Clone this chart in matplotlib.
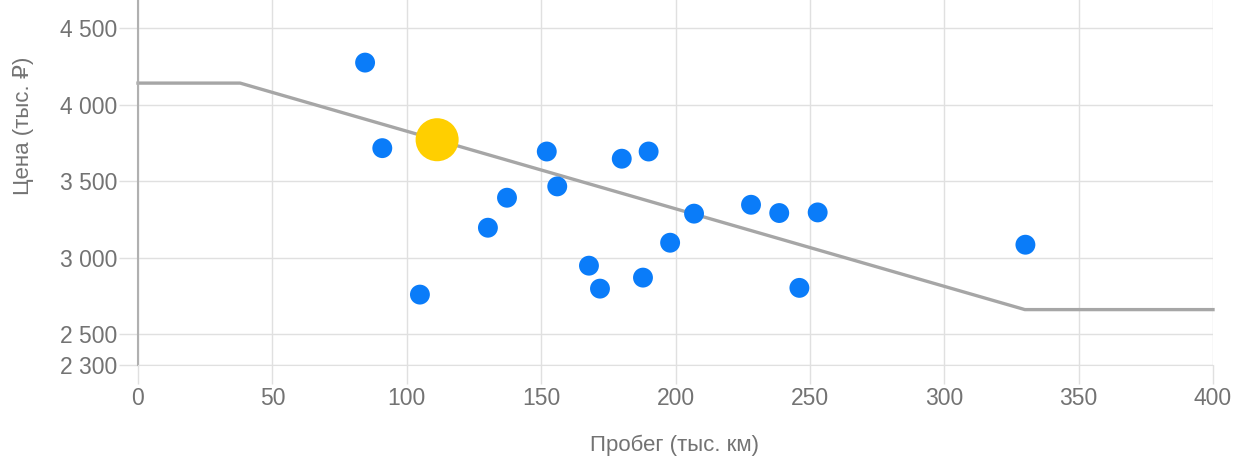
import matplotlib.pyplot as plt
import matplotlib.ticker as mticker

plt.rcParams['font.family'] = ['Liberation Sans', 'DejaVu Sans']

# blue points: mileage (thousand km) and price (thousand rub)
mileage = [84.5, 90.9, 104.9, 130.2, 137.3, 152.1, 156.0, 167.8, 171.9, 180.0,
           187.9, 190.0, 198.0, 206.9, 228.1, 238.6, 246.1, 252.9, 330.2]
price = [4276, 3717, 2760, 3197, 3393, 3695, 3467, 2949, 2799, 3648,
         2871, 3695, 3099, 3289, 3347, 3293, 2804, 3297, 3086]

# highlighted car
hl_mileage = [111.3]
hl_price = [3772]

# trend line
trend_x = [0, 38, 330, 400]
trend_y = [4142, 4142, 2662, 2662]

x_ticks = [0, 50, 100, 150, 200, 250, 300, 350, 400]
y_ticks = [2300, 2500, 3000, 3500, 4000, 4500]

text_col = '#737373'
grid_col = '#e0e0e0'

fig = plt.figure(figsize=(12.37, 4.59), dpi=100)
ax = fig.add_axes([138 / 1237, 1 - 365 / 459, (1213 - 138) / 1237, 365 / 459])

ax.plot(trend_x, trend_y, color='#a6a6a6', lw=2.4, zorder=2, clip_on=False)
ax.scatter(mileage, price, s=205, color='#0a7cf9', edgecolors='none', zorder=3)
ax.scatter(hl_mileage, hl_price, s=960, color='#ffcf00', edgecolors='none', zorder=4)

ax.set_xlim(0, 400)
ax.set_ylim(2300, 4685)
ax.set_xticks(x_ticks)
ax.set_yticks(y_ticks)
ax.yaxis.set_major_formatter(mticker.FuncFormatter(
    lambda v, p: '{:,}'.format(int(v)).replace(',', ' ')))

ax.grid(True, color=grid_col, lw=1)
ax.set_axisbelow(True)
for s in ['top', 'right']:
    ax.spines[s].set_visible(False)
ax.spines['left'].set_color('#b0b0b0')
ax.spines['bottom'].set_color(grid_col)
ax.spines['left'].set_linewidth(1.5)
ax.tick_params(axis='both', length=14, width=1, color=grid_col,
               labelcolor=text_col, labelsize=16.5, pad=2)
ax.tick_params(axis='y', pad=1)

fig.text(675 / 1237, 1 - 445 / 459, 'Пробег (тыс. км)', ha='center', va='center',
         fontsize=16, color=text_col)
fig.text(24 / 1237, 1 - 126 / 459, 'Цена (тыс. ₽)', ha='center', va='center',
         rotation=90, fontsize=16, color=text_col)

fig.savefig('out.png', dpi=100)
